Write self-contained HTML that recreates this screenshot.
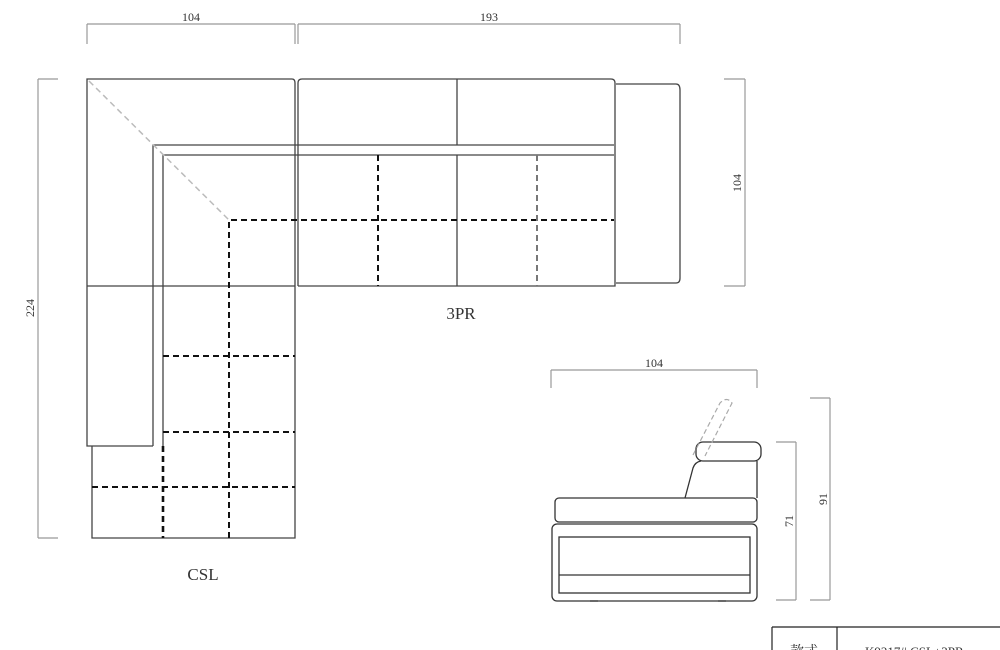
<!DOCTYPE html>
<html><head><meta charset="utf-8"><style>
html,body{margin:0;padding:0;background:#fff;width:1000px;height:650px;overflow:hidden}
svg{display:block}
text{font-family:"Liberation Serif","Noto Serif CJK SC",serif;fill:#333}
</style></head><body>
<svg width="1000" height="650" viewBox="0 0 1000 650" xmlns="http://www.w3.org/2000/svg">
<g stroke="#999" stroke-width="1.2" fill="none">
  <line x1="87" y1="24" x2="295" y2="24"/><line x1="87" y1="24" x2="87" y2="44"/><line x1="295" y1="24" x2="295" y2="44"/>
  <line x1="298" y1="24" x2="680" y2="24"/><line x1="298" y1="24" x2="298" y2="44"/><line x1="680" y1="24" x2="680" y2="44"/>
  <line x1="38" y1="79" x2="38" y2="538"/><line x1="38" y1="79" x2="58" y2="79"/><line x1="38" y1="538" x2="58" y2="538"/>
  <line x1="745" y1="79" x2="745" y2="286"/><line x1="724" y1="79" x2="745" y2="79"/><line x1="724" y1="286" x2="745" y2="286"/>
  <line x1="551" y1="370" x2="757" y2="370"/><line x1="551" y1="370" x2="551" y2="388"/><line x1="757" y1="370" x2="757" y2="388"/>
  <line x1="796" y1="442" x2="796" y2="600"/><line x1="776" y1="442" x2="796" y2="442"/><line x1="776" y1="600" x2="796" y2="600"/>
  <line x1="830" y1="398" x2="830" y2="600"/><line x1="810" y1="398" x2="830" y2="398"/><line x1="810" y1="600" x2="830" y2="600"/>
</g>
<text x="191" y="21" font-size="12" text-anchor="middle">104</text>
<text x="489" y="21" font-size="12" text-anchor="middle">193</text>
<text x="654" y="367" font-size="12" text-anchor="middle">104</text>
<text transform="translate(34,308) rotate(-90)" font-size="12" text-anchor="middle">224</text>
<text transform="translate(741,183) rotate(-90)" font-size="12" text-anchor="middle">104</text>
<text transform="translate(793,521) rotate(-90)" font-size="12" text-anchor="middle">71</text>
<text transform="translate(827,499) rotate(-90)" font-size="12" text-anchor="middle">91</text>
<text x="461" y="319" font-size="17" text-anchor="middle">3PR</text>
<text x="203" y="580" font-size="17" text-anchor="middle">CSL</text>

<g stroke="#444" stroke-width="1.3" fill="none">
  <path d="M87 286 V79 H292 Q295 79 295 83 V286"/>
  <line x1="87" y1="286" x2="295" y2="286"/>
  <path d="M153 446 V145 H614"/>
  <path d="M163 446 V155 H614"/>
  <path d="M87 286 V446 H153"/>
  <path d="M92 446 V538 H295 V286"/>
  <path d="M298 286 V83 Q298 79 302 79 H611 Q615 79 615 83 V286 H298"/>
  <line x1="457" y1="79" x2="457" y2="145"/>
  <line x1="457" y1="155" x2="457" y2="286"/>
  <path d="M616 84 H676 Q680 84 680 90 V278 Q680 283 676 283 H616"/>
</g>
<g stroke="#111" stroke-width="2" fill="none" stroke-dasharray="6,4">
  <path d="M229 538 V220 H614"/>
  <line x1="378" y1="155" x2="378" y2="286"/>
  <line x1="163" y1="356" x2="295" y2="356"/>
  <line x1="163" y1="432" x2="295" y2="432"/>
  <line x1="92" y1="487" x2="295" y2="487"/>
  <line x1="163" y1="446" x2="163" y2="538" stroke-width="2.6"/>
</g>
<line x1="537" y1="155" x2="537" y2="286" stroke="#777" stroke-width="2" stroke-dasharray="6,4"/>
<line x1="89" y1="81" x2="229" y2="220" stroke="#bbb" stroke-width="1.5" stroke-dasharray="6,4"/>

<g stroke="#333" stroke-width="1.3" fill="none">
  <rect x="555" y="498" width="202" height="24" rx="4"/>
  <rect x="552" y="524" width="205" height="77" rx="5"/>
  <rect x="559" y="537" width="191" height="56"/>
  <line x1="559" y1="575" x2="750" y2="575"/>
  <rect x="696" y="442" width="65" height="19" rx="7"/>
  <path d="M685 498 L693 468 Q695 462 701 461 M757 461 V498"/>
  <line x1="590" y1="601" x2="598" y2="601"/><line x1="718" y1="601" x2="726" y2="601"/>
</g>
<path d="M693 455 L720 403 Q727 396 732 403 L705 456" stroke="#aaa" stroke-width="1.2" fill="none" stroke-dasharray="5,3"/>

<g stroke="#222" stroke-width="1.2" fill="none">
  <line x1="772" y1="627" x2="1000" y2="627"/>
  <line x1="772" y1="627" x2="772" y2="650"/>
  <line x1="837" y1="627" x2="837" y2="650"/>
</g>
<text x="804" y="656" font-size="14" text-anchor="middle">款式</text>
<text x="865" y="656" font-size="13">K9217#  CSL+3PR</text>
</svg>
</body></html>
